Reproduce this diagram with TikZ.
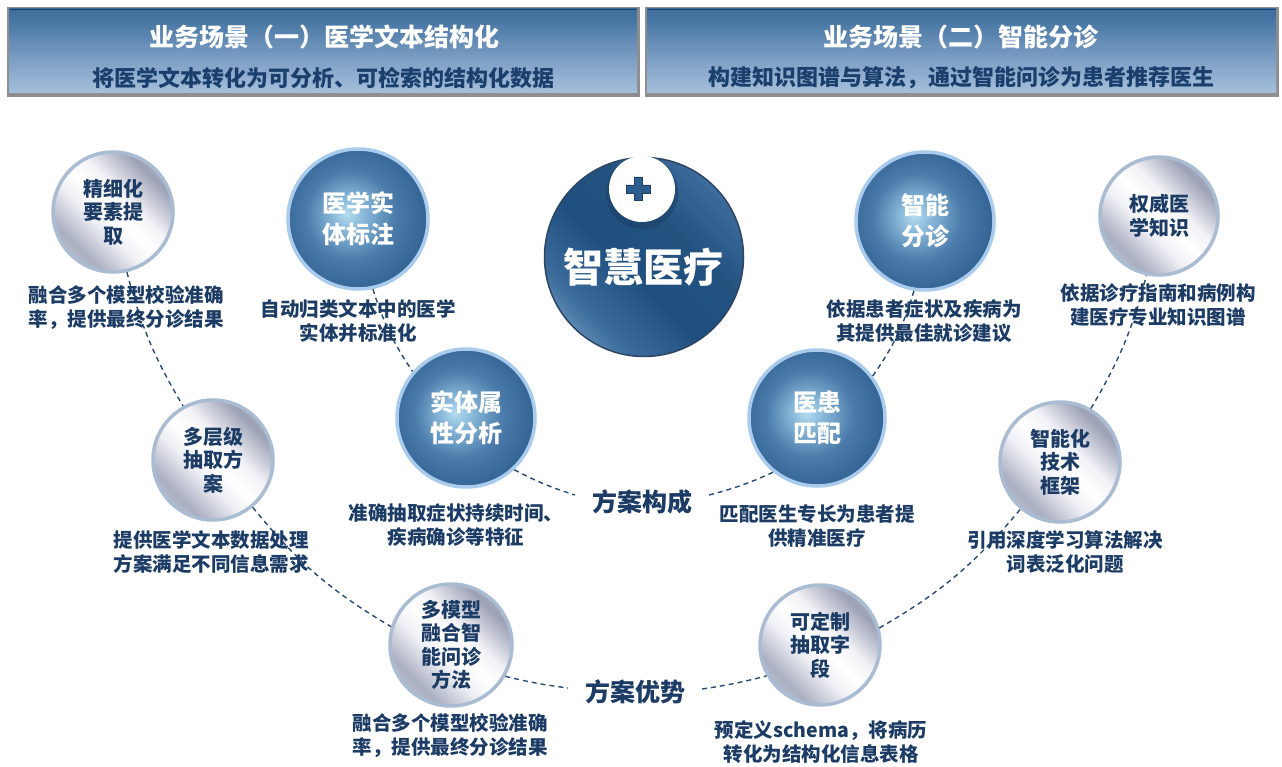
\documentclass[tikz,border=0pt]{standalone}
\usepackage{fontspec}
\newfontfamily\cjk{Noto Sans CJK SC}
\definecolor{navy}{HTML}{1C3C66}
\definecolor{subnavy}{HTML}{1A3F6C}
\definecolor{dashc}{HTML}{2B4A72}
\definecolor{glow}{HTML}{A8CBEE}
\definecolor{ringc}{HTML}{A9BCD1}
\definecolor{hframe}{HTML}{8E8E8E}
\definecolor{crossc}{HTML}{2D5D8D}
\definecolor{crossd}{HTML}{1B3F66}
% header shading
\definecolor{h0}{HTML}{D0E0F1}\definecolor{h1}{HTML}{B5CBE3}\definecolor{h2}{HTML}{7D9FC5}\definecolor{h3}{HTML}{4A78A5}\definecolor{h4}{HTML}{2E5D8D}\definecolor{h5}{HTML}{24507F}
\pgfdeclareverticalshading{hdrsh}{100bp}{color(0bp)=(h0); color(18bp)=(h1); color(45bp)=(h2); color(67bp)=(h3); color(88bp)=(h4); color(100bp)=(h5)}
% silver shading
\definecolor{s0}{HTML}{D6DAE4}\definecolor{s1}{HTML}{A9AEC1}\definecolor{s2}{HTML}{EFF0F5}\definecolor{s3}{HTML}{F3F3F7}\definecolor{s4}{HTML}{9CA1B6}\definecolor{s5}{HTML}{BDC1D0}
\pgfdeclareverticalshading{silversh}{100bp}{color(0bp)=(s0); color(15bp)=(s0); color(29bp)=(s1); color(42bp)=(s2); color(50bp)=(white); color(58bp)=(s3); color(72bp)=(s4); color(86bp)=(s5); color(100bp)=(s5)}
% central shading
\definecolor{c0}{HTML}{8FB6DA}\definecolor{c1}{HTML}{3D6D9C}\definecolor{c2}{HTML}{1F4F7F}\definecolor{c3}{HTML}{23527F}\definecolor{c4}{HTML}{3D6D9D}\definecolor{c5}{HTML}{7EA6CC}
\pgfdeclareverticalshading{centersh}{100bp}{color(0bp)=(c0); color(16bp)=(c0); color(30bp)=(c1); color(45bp)=(c2); color(60bp)=(c3); color(75bp)=(c4); color(86bp)=(c5); color(100bp)=(c5)}
% blue sphere
\definecolor{b0}{HTML}{B5DDF0}\definecolor{b1}{HTML}{8DBCDC}\definecolor{b2}{HTML}{4A7BAA}\definecolor{b3}{HTML}{2A5A8A}\definecolor{b4}{HTML}{1D4C7C}
\pgfdeclareradialshading{bluesh}{\pgfpoint{-4bp}{2bp}}{color(0bp)=(b0); color(5bp)=(b1); color(16bp)=(b2); color(31bp)=(b3); color(45bp)=(b4); color(50bp)=(b4)}

\tikzset{
  htitle/.style={font=\cjk\bfseries\fontsize{25}{29}\selectfont, text=white, inner sep=0pt},
  hsub/.style={font=\cjk\bfseries\fontsize{22}{26}\selectfont, text=subnavy, inner sep=0pt},
  desc/.style={font=\cjk\bfseries\fontsize{19.5}{24}\selectfont, text=navy, align=center, inner sep=0pt},
  keytext/.style={font=\cjk\bfseries\fontsize{25}{30}\selectfont, text=navy, inner sep=0pt, outer sep=17pt},
  bluesph/.style={circle, inner sep=0pt, minimum size=#1, shade, shading=bluesh, draw=glow, line width=3.5pt,
     font=\cjk\bfseries\fontsize{24}{31}\selectfont, text=white, align=center},
  silversph/.style={circle, inner sep=0pt, minimum size=#1, shade, shading=silversh, shading angle=-45, draw=ringc, line width=3.5pt,
     font=\cjk\bfseries\fontsize{20}{23.5}\selectfont, text=navy, align=center},
  conn/.style={draw=dashc, line width=1.4pt, dash pattern=on 5pt off 4pt}
}

\begin{document}
\begin{tikzpicture}[x=1pt,y=-1pt]
\fill[white] (0,0) rectangle (1282,767);
\useasboundingbox (0,0) rectangle (1282,767);

% ---------- headers ----------
\fill[hframe] (7,7) rectangle (640,97);
\shade[shading=hdrsh] (9,9) rectangle (637,93);
\draw[crossd, line width=1pt] (9.5,9.5) -- (636.5,9.5);
\fill[hframe] (645,7) rectangle (1279,97);
\shade[shading=hdrsh] (647,9) rectangle (1276,93);
\draw[crossd, line width=1pt] (647.5,9.5) -- (1275.5,9.5);
\node[htitle] (t1) at (324,37) {业务场景（一）医学文本结构化};
\node[hsub] (st1) at (323,78) {将医学文本转化为可分析、可检索的结构化数据};
\node[htitle] (t2) at (961,37) {业务场景（二）智能分诊};
\node[hsub] (st2) at (961,78) {构建知识图谱与算法，通过智能问诊为患者推荐医生};

% ---------- central sphere ----------
\node[circle, minimum size=199pt, inner sep=0pt, shade, shading=centersh, shading angle=-45, draw={rgb,255:red,45;green,70;blue,100}, line width=1.5pt] (zh) at (644,257) {};
\fill[crossd, opacity=0.55] (642,193) circle (36);
\node[circle, fill=white, minimum size=66pt, inner sep=0pt] (plus) at (642,189) {};
\fill[crossc, draw=crossd, line width=0.8pt] (634,177) -- (642,177) -- (642,185) -- (650,185) -- (650,193) -- (642,193) -- (642,200) -- (634,200) -- (634,193) -- (626,193) -- (626,185) -- (634,185) -- cycle;
\node[font=\cjk\bfseries\fontsize{40}{44}\selectfont, text=white, inner sep=0pt] (zhtxt) at (643,267) {智慧医疗};

% ---------- spheres ----------
\node[bluesph=140pt] (yxst) at (358,219) {医学实\\体标注};
\node[bluesph=138pt] (znfz) at (925,221) {智能\\分诊};
\node[bluesph=138pt] (stsx) at (466,418) {实体属\\性分析};
\node[bluesph=136pt] (yhpp) at (817,418) {医患\\匹配};

\node[silversph=120pt] (jxh) at (113,212) {精细化\\要素提\\取};
\node[silversph=118pt] (qwyx) at (1159,216) {权威医\\学知识};
\node[silversph=120pt] (dcj) at (213,460) {多层级\\抽取方\\案};
\node[silversph=120pt] (znh) at (1060,462) {智能化\\技术\\框架};
\node[silversph=122pt] (dmx) at (451,645) {多模型\\融合智\\能问诊\\方法};
\node[silversph=120pt] (kdz) at (820,645) {可定制\\抽取字\\段};

% ---------- key texts ----------
\node[keytext] (fagc) at (642,502) {方案构成};
\node[keytext] (fays) at (635,692) {方案优势};

% ---------- connectors ----------
\draw[conn] (jxh.-77) to[bend right=8] (dcj.119);
\draw[conn] (dcj.-50) to[bend right=10] (dmx.163);
\draw[conn] (dmx.-30) to[bend right=3] ([yshift=4pt]fays.west);
\draw[conn] ([yshift=3pt]fays.east) to[bend right=3] (kdz.210);
\draw[conn] (kdz.16) to[bend right=10] (znh.230);
\draw[conn] (znh.60) to[bend right=8] (qwyx.258);

\draw[conn] (yxst.-78) to[bend right=8] (stsx.139);
\draw[conn] (stsx.-47) to[bend right=5] ([yshift=7pt]fagc.west);
\draw[conn] ([yshift=7pt]fagc.east) to[bend right=5] (yhpp.231);
\draw[conn] (yhpp.37) to[bend right=9] (znfz.261);

% ---------- descriptions ----------
\node[desc] (d1) at (126,308) {融合多个模型校验准确\\率，提供最终分诊结果};
\node[desc] (d2) at (358,321) {自动归类文本中的医学\\实体并标准化};
\node[desc] (d3) at (924,321) {依据患者症状及疾病为\\其提供最佳就诊建议};
\node[desc] (d4) at (1158,305) {依据诊疗指南和病例构\\建医疗专业知识图谱};
\node[desc] (d5) at (456,525) {准确抽取症状持续时间、\\疾病确诊等特征};
\node[desc] (d6) at (817,526) {匹配医生专长为患者提\\供精准医疗};
\node[desc] (d7) at (211,552) {提供医学文本数据处理\\方案满足不同信息需求};
\node[desc] (d8) at (1065,552) {引用深度学习算法解决\\词表泛化问题};
\node[desc] (d9) at (450,736) {融合多个模型校验准确\\率，提供最终分诊结果};
\node[desc] (d10) at (821,742) {预定义schema，将病历\\转化为结构化信息表格};
\end{tikzpicture}
\end{document}
